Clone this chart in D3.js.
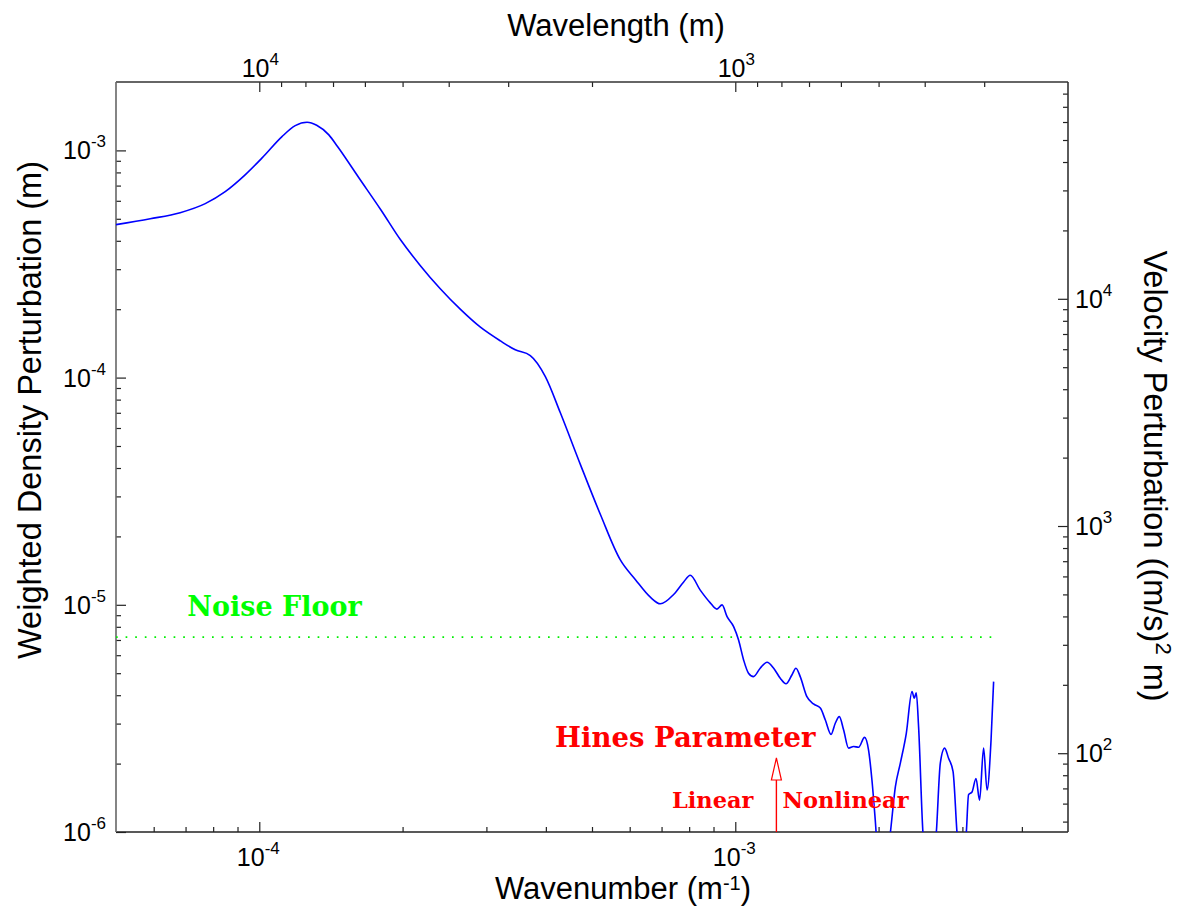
<!DOCTYPE html>
<html>
<head>
<meta charset="utf-8">
<script src="https://cdn.jsdelivr.net/npm/d3@7"></script>
<style>
  html, body { margin: 0; padding: 0; background: #ffffff; }
  svg { display: block; }
</style>
</head>
<body>
<svg id="chart" width="1181" height="910"></svg>
<script>
// Spectrum: wavenumber (1/m) and weighted density perturbation (m)
const wavenumber = [
  5.0e-5, 5.90e-5, 6.82e-5, 7.70e-5, 8.48e-5, 9.35e-5, 1.015e-4, 1.116e-4, 1.19e-4, 1.26e-4, 1.32e-4,
  1.40e-4, 1.46e-4, 1.62e-4, 1.80e-4, 1.98e-4, 2.18e-4, 2.40e-4, 2.65e-4, 2.91e-4, 3.21e-4, 3.45e-4,
  3.71e-4, 3.99e-4,
  4.29e-4, 4.73e-4, 5.21e-4, 5.73e-4, 6.17e-4, 6.63e-4, 6.96e-4, 7.42e-4, 7.79e-4, 8.04e-4,
  8.44e-4, 8.86e-4, 9.15e-4, 9.38e-4, 9.61e-4, 9.92e-4, 1.016e-3, 1.041e-3, 1.066e-3, 1.092e-3,
  1.128e-3, 1.166e-3, 1.204e-3, 1.243e-3, 1.278e-3, 1.315e-3, 1.341e-3, 1.369e-3, 1.414e-3, 1.460e-3,
  1.509e-3, 1.546e-3, 1.589e-3, 1.622e-3, 1.654e-3, 1.689e-3, 1.730e-3, 1.772e-3, 1.816e-3, 1.869e-3,
  1.905e-3, 1.937e-3, 1.968e-3, 1.997e-3, 2.056e-3, 2.117e-3, 2.169e-3, 2.222e-3, 2.287e-3, 2.351e-3,
  2.377e-3, 2.400e-3, 2.427e-3, 2.479e-3, 2.556e-3, 2.644e-3, 2.696e-3, 2.753e-3, 2.806e-3, 2.867e-3,
  2.923e-3, 2.984e-3, 3.057e-3, 3.091e-3, 3.143e-3, 3.204e-3, 3.260e-3, 3.324e-3, 3.380e-3, 3.446e-3,
  3.489e-3
];
const density = [
  4.71e-4, 5.00e-4, 5.32e-4, 5.83e-4, 6.58e-4, 7.82e-4, 9.29e-4, 1.15e-3, 1.285e-3, 1.33e-3, 1.29e-3,
  1.17e-3, 1.04e-3, 7.56e-4, 5.48e-4, 4.04e-4, 3.11e-4, 2.46e-4, 1.99e-4, 1.67e-4, 1.45e-4, 1.325e-4,
  1.25e-4, 1.01e-4,
  7.00e-5, 4.13e-5, 2.49e-5, 1.58e-5, 1.29e-5, 1.08e-5, 1.01e-5, 1.11e-5, 1.26e-5, 1.35e-5,
  1.16e-5, 1.02e-5, 9.57e-6, 9.99e-6, 8.87e-6, 8.02e-6, 7.00e-6, 5.72e-6, 5.00e-6, 4.83e-6,
  5.26e-6, 5.59e-6, 5.26e-6, 4.75e-6, 4.49e-6, 4.91e-6, 5.26e-6, 4.83e-6, 3.94e-6, 3.66e-6,
  3.51e-6, 3.11e-6, 2.69e-6, 3.01e-6, 3.22e-6, 2.81e-6, 2.34e-6, 2.38e-6, 2.36e-6, 2.61e-6,
  2.30e-6, 1.69e-6, 1.13e-6, 7.5e-7, 6.15e-7, 9.9e-7, 1.58e-6, 2.01e-6, 2.72e-6, 4.15e-6,
  3.88e-6, 4.10e-6, 2.91e-6, 9.9e-7, 6.15e-7, 9.9e-7, 2.01e-6, 2.34e-6, 2.11e-6, 1.85e-6,
  9.9e-7, 6.2e-7, 9.9e-7, 1.46e-6, 1.50e-6, 1.72e-6, 1.38e-6, 2.34e-6, 1.53e-6, 2.54e-6,
  4.59e-6
];

// Reference levels
const noiseFloor = 7.2e-6;
const noiseFloorEnd = 3.45e-3;
const hinesWavenumber = 1.22e-3;
const velocityFactor = 4.5e7;   // velocity perturbation per unit weighted density perturbation

// Axis domains and ticks
const wavenumberDomain = [5e-5, 5e-3];
const densityDomain = [1e-6, 2e-3];
const bottomMajorTicks = [1e-4, 1e-3];
const bottomMajorLabels = ["-4", "-3"];
const bottomMinorTicks = [6e-5, 7e-5, 8e-5, 9e-5, 2e-4, 3e-4, 4e-4, 5e-4, 6e-4, 7e-4, 8e-4, 9e-4,
  2e-3, 3e-3, 4e-3];
const topMajorTicks = [1e4, 1e3];
const topMajorLabels = ["4", "3"];
const topMinorTicks = [9000, 8000, 7000, 6000, 5000, 4000, 3000, 2000,
  900, 800, 700, 600, 500, 400, 300];
const leftMajorTicks = [1e-6, 1e-5, 1e-4, 1e-3];
const leftMajorLabels = ["-6", "-5", "-4", "-3"];
const leftMinorTicks = [2e-6, 3e-6, 4e-6, 5e-6, 6e-6, 7e-6, 8e-6, 9e-6,
  2e-5, 3e-5, 4e-5, 5e-5, 6e-5, 7e-5, 8e-5, 9e-5,
  2e-4, 3e-4, 4e-4, 5e-4, 6e-4, 7e-4, 8e-4, 9e-4];
const rightMajorTicks = [1e2, 1e3, 1e4];
const rightMajorLabels = ["2", "3", "4"];
const rightMinorTicks = [50, 60, 70, 80, 90, 200, 300, 400, 500, 600, 700, 800, 900,
  2000, 3000, 4000, 5000, 6000, 7000, 8000, 9000, 20000, 30000, 40000, 50000, 60000, 70000, 80000];

// Layout
const plot = { left: 116, right: 1068, top: 82, bottom: 832 };
const sans = "'Liberation Sans', Arial, Helvetica, sans-serif";
const serif = "'DejaVu Serif', serif";

const svg = d3.select("#chart");

const x = d3.scaleLog().domain(wavenumberDomain).range([plot.left, plot.right]);
const xTop = d3.scaleLog().domain(wavenumberDomain.map(k => 1 / k)).range([plot.left, plot.right]);
const y = d3.scaleLog().domain(densityDomain).range([plot.bottom, plot.top]);
const yRight = d3.scaleLog().domain(densityDomain.map(v => v * velocityFactor)).range([plot.bottom, plot.top]);

// Clip for the data
svg.append("defs").append("clipPath").attr("id", "plotClip")
  .append("rect")
  .attr("x", plot.left).attr("y", plot.top)
  .attr("width", plot.right - plot.left).attr("height", plot.bottom - plot.top);

// Tick marks (pointing into the plot)
function ticks(axisFn, scale, values, size, transform) {
  const g = svg.append("g")
    .attr("transform", transform)
    .call(axisFn(scale).tickValues(values).tickSize(-size).tickFormat(""));
  g.select(".domain").remove();
  g.selectAll(".tick line").attr("stroke", "#222").attr("stroke-width", 1.2);
  return g;
}
ticks(d3.axisBottom, x, bottomMajorTicks, 10, `translate(0,${plot.bottom})`);
ticks(d3.axisBottom, x, bottomMinorTicks, 5, `translate(0,${plot.bottom})`);
ticks(d3.axisTop, xTop, topMajorTicks, 10, `translate(0,${plot.top})`);
ticks(d3.axisTop, xTop, topMinorTicks, 5, `translate(0,${plot.top})`);
ticks(d3.axisLeft, y, leftMajorTicks, 10, `translate(${plot.left},0)`);
ticks(d3.axisLeft, y, leftMinorTicks, 5, `translate(${plot.left},0)`);
ticks(d3.axisRight, yRight, rightMajorTicks, 10, `translate(${plot.right},0)`);
ticks(d3.axisRight, yRight, rightMinorTicks, 5, `translate(${plot.right},0)`);

// Frame
const frame = svg.append("g").attr("fill", "none").attr("stroke-width", 1.6);
frame.append("line").attr("x1", plot.left).attr("x2", plot.right).attr("y1", plot.top).attr("y2", plot.top).attr("stroke", "#333");
frame.append("line").attr("x1", plot.left).attr("x2", plot.right).attr("y1", plot.bottom).attr("y2", plot.bottom).attr("stroke", "#222");
frame.append("line").attr("x1", plot.left).attr("x2", plot.left).attr("y1", plot.top).attr("y2", plot.bottom).attr("stroke", "#666");
frame.append("line").attr("x1", plot.right).attr("x2", plot.right).attr("y1", plot.top).attr("y2", plot.bottom).attr("stroke", "#333");

// Power-of-ten labels with superscript exponent
function powerLabel(px, py, exp, anchor) {
  const t = svg.append("text")
    .attr("x", px).attr("y", py)
    .attr("text-anchor", anchor)
    .attr("font-family", sans)
    .attr("font-size", 25)
    .attr("fill", "#000");
  t.append("tspan").text("10");
  t.append("tspan").attr("font-size", 17).attr("dy", -12).text(exp);
  return t;
}
bottomMajorTicks.forEach((v, i) => powerLabel(x(v) - 1, 866, bottomMajorLabels[i], "middle"));
topMajorTicks.forEach((v, i) => powerLabel(xTop(v) + 1, 77, topMajorLabels[i], "middle"));
leftMajorTicks.forEach((v, i) => powerLabel(plot.left - 10, y(v) + 9, leftMajorLabels[i], "end"));
rightMajorTicks.forEach((v, i) => powerLabel(plot.right + 7, yRight(v) + 9, rightMajorLabels[i], "start"));

// Axis titles
svg.append("text")
  .attr("x", 616).attr("y", 36)
  .attr("text-anchor", "middle")
  .attr("font-family", sans).attr("font-size", 31)
  .text("Wavelength (m)");

const xTitle = svg.append("text")
  .attr("x", 623).attr("y", 899)
  .attr("text-anchor", "middle")
  .attr("font-family", sans).attr("font-size", 31);
xTitle.append("tspan").text("Wavenumber (m");
xTitle.append("tspan").attr("font-size", 20).attr("dy", -9).text("-1");
xTitle.append("tspan").attr("dy", 9).text(")");

svg.append("text")
  .attr("transform", "translate(41,410) rotate(-90)")
  .attr("text-anchor", "middle")
  .attr("font-family", sans).attr("font-size", 32.5)
  .text("Weighted Density Perturbation (m)");

const yRightTitle = svg.append("text")
  .attr("transform", "translate(1144,476) rotate(90)")
  .attr("text-anchor", "middle")
  .attr("font-family", sans).attr("font-size", 32.5);
yRightTitle.append("tspan").text("Velocity Perturbation ((m/s)");
yRightTitle.append("tspan").attr("font-size", 22).attr("dy", -12).text("2");
yRightTitle.append("tspan").attr("dy", 12).text(" m)");

// Noise floor
const plotArea = svg.append("g").attr("clip-path", "url(#plotClip)");
plotArea.append("line")
  .attr("x1", x(wavenumberDomain[0])).attr("x2", x(noiseFloorEnd))
  .attr("y1", y(noiseFloor)).attr("y2", y(noiseFloor))
  .attr("stroke", "#00ee00")
  .attr("stroke-width", 1.7)
  .attr("stroke-dasharray", "1.7,7.9");

svg.append("text")
  .attr("x", x(7.06e-5)).attr("y", y(noiseFloor) - 21)
  .attr("font-family", serif).attr("font-size", 27)
  .attr("font-weight", "bold")
  .attr("fill", "#00ff00")
  .text("Noise Floor");

// Spectrum curve
const line = d3.line()
  .x((d, i) => x(wavenumber[i]))
  .y((d, i) => y(density[i]))
  .curve(d3.curveMonotoneX);
plotArea.append("path")
  .datum(density)
  .attr("d", line)
  .attr("fill", "none")
  .attr("stroke", "#0000ff")
  .attr("stroke-width", 1.6);

// Hines parameter marker
const hx = x(hinesWavenumber);
const red = "#ff0000";
svg.append("line")
  .attr("x1", hx).attr("x2", hx)
  .attr("y1", plot.bottom).attr("y2", 780)
  .attr("stroke", red).attr("stroke-width", 1.4);
svg.append("path")
  .attr("d", d3.line()([[hx - 5, 780], [hx, 758], [hx + 5, 780]]) + "Z")
  .attr("fill", "#fff").attr("stroke", red).attr("stroke-width", 1.2);

svg.append("text")
  .attr("x", hx + 39).attr("y", 747)
  .attr("text-anchor", "end")
  .attr("font-family", serif).attr("font-size", 27.5)
  .attr("font-weight", "bold")
  .attr("fill", red)
  .text("Hines Parameter");
svg.append("text")
  .attr("x", hx - 23).attr("y", 808)
  .attr("text-anchor", "end")
  .attr("font-family", serif).attr("font-size", 22.5)
  .attr("font-weight", "bold")
  .attr("fill", red)
  .text("Linear");
svg.append("text")
  .attr("x", hx + 6).attr("y", 808)
  .attr("text-anchor", "start")
  .attr("font-family", serif).attr("font-size", 22.5)
  .attr("font-weight", "bold")
  .attr("fill", red)
  .text("Nonlinear");
</script>
</body>
</html>
